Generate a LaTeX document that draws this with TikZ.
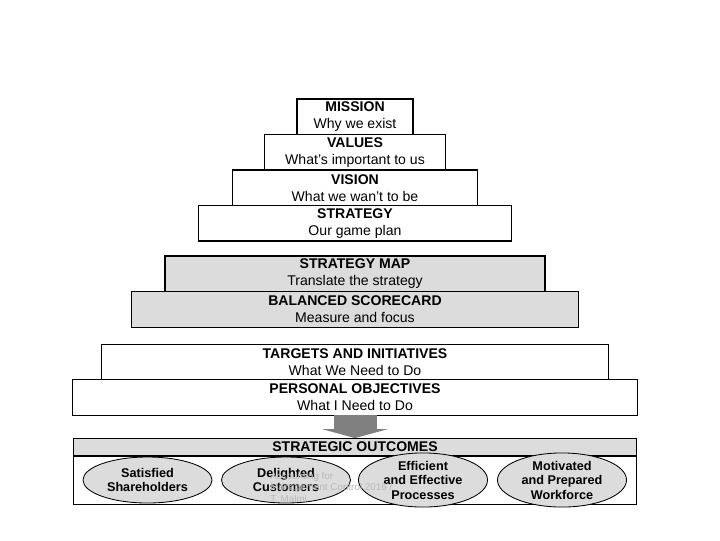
\documentclass[tikz,border=0pt]{standalone}
\usepackage{fontspec}
\setmainfont{Liberation Sans}
\usetikzlibrary{positioning,shapes.geometric,arrows.meta}
\definecolor{boxgray}{HTML}{DCDCDC}
\definecolor{arrowgray}{HTML}{808080}

\begin{document}
\begin{tikzpicture}[x=0.025cm, y=-0.025cm,
    tier/.style={draw, line width=0.8pt, minimum height=0.8875cm, inner sep=0pt, outer sep=0pt, align=center, font=\fontsize{10}{12}\selectfont},
    shaded/.style={tier, fill=boxgray},
    goal/.style={ellipse, draw, line width=0.6pt, fill=boxgray, minimum width=3.225cm, minimum height=1.15cm, inner sep=0pt, align=center, font=\fontsize{9}{10.3}\selectfont\bfseries}]
    \useasboundingbox (0,0) rectangle (720,540);

    % the pyramid
    \node[tier, minimum width=2.9cm, anchor=north] (mission) at (355,99) {\textbf{MISSION}\\Why we exist};
    \node[tier, minimum width=4.525cm, below=0pt of mission] (values) {\textbf{VALUES}\\What's important to us};
    \node[tier, minimum width=6.125cm, below=0pt of values] (vision) {\textbf{VISION}\\What we wan't to be};
    \node[tier, minimum width=7.825cm, below=0pt of vision] (strategy) {\textbf{STRATEGY}\\Our game plan};

    \node[shaded, minimum width=9.5cm, below=0.375cm of strategy] (smap) {\textbf{STRATEGY MAP}\\Translate the strategy};
    \node[shaded, minimum width=11.175cm, below=0pt of smap] (bsc) {\textbf{BALANCED SCORECARD}\\Measure and focus};

    \node[tier, minimum width=12.65cm, below=0.425cm of bsc] (targets) {\textbf{TARGETS AND INITIATIVES}\\What We Need to Do};
    \node[tier, minimum width=14.1cm, below=0pt of targets] (personal) {\textbf{PERSONAL OBJECTIVES}\\What I Need to Do};

    % outcomes
    \node[tier, fill=boxgray, minimum width=14.075cm, minimum height=0.45cm, below=0.575cm of personal] (outcomes) {\textbf{STRATEGIC OUTCOMES}};
    \node[draw, line width=0.8pt, minimum width=14.075cm, minimum height=1.2cm, inner sep=0pt, outer sep=0pt, below=0pt of outcomes] (outbox) {};
    \draw[line width=1.6pt] (outcomes.south west) -- (outcomes.south east);

    \node[goal] (share) at (147.5,480) {Satisfied\\Shareholders};
    \node[goal] (cust) at (286,480) {Delighted\\Customers};
    \node[goal] (proc) at (423,480) {Efficient\\and Effective\\Processes};
    \node[goal] (work) at (562,480) {Motivated\\and Prepared\\Workforce};

    \node[anchor=north west, align=left, inner sep=0pt, text=gray!55, font=\fontsize{7}{8.2}\selectfont] (credit) at (270,472) {Accounting for\\Management Control 2016 /\\T. Malmi};

    \draw[arrowgray, line width=1.075cm, -{Triangle[width=1.65cm, length=0.225cm, line width=0pt]}] (personal.south) -- (outcomes.north);
\end{tikzpicture}
\end{document}
